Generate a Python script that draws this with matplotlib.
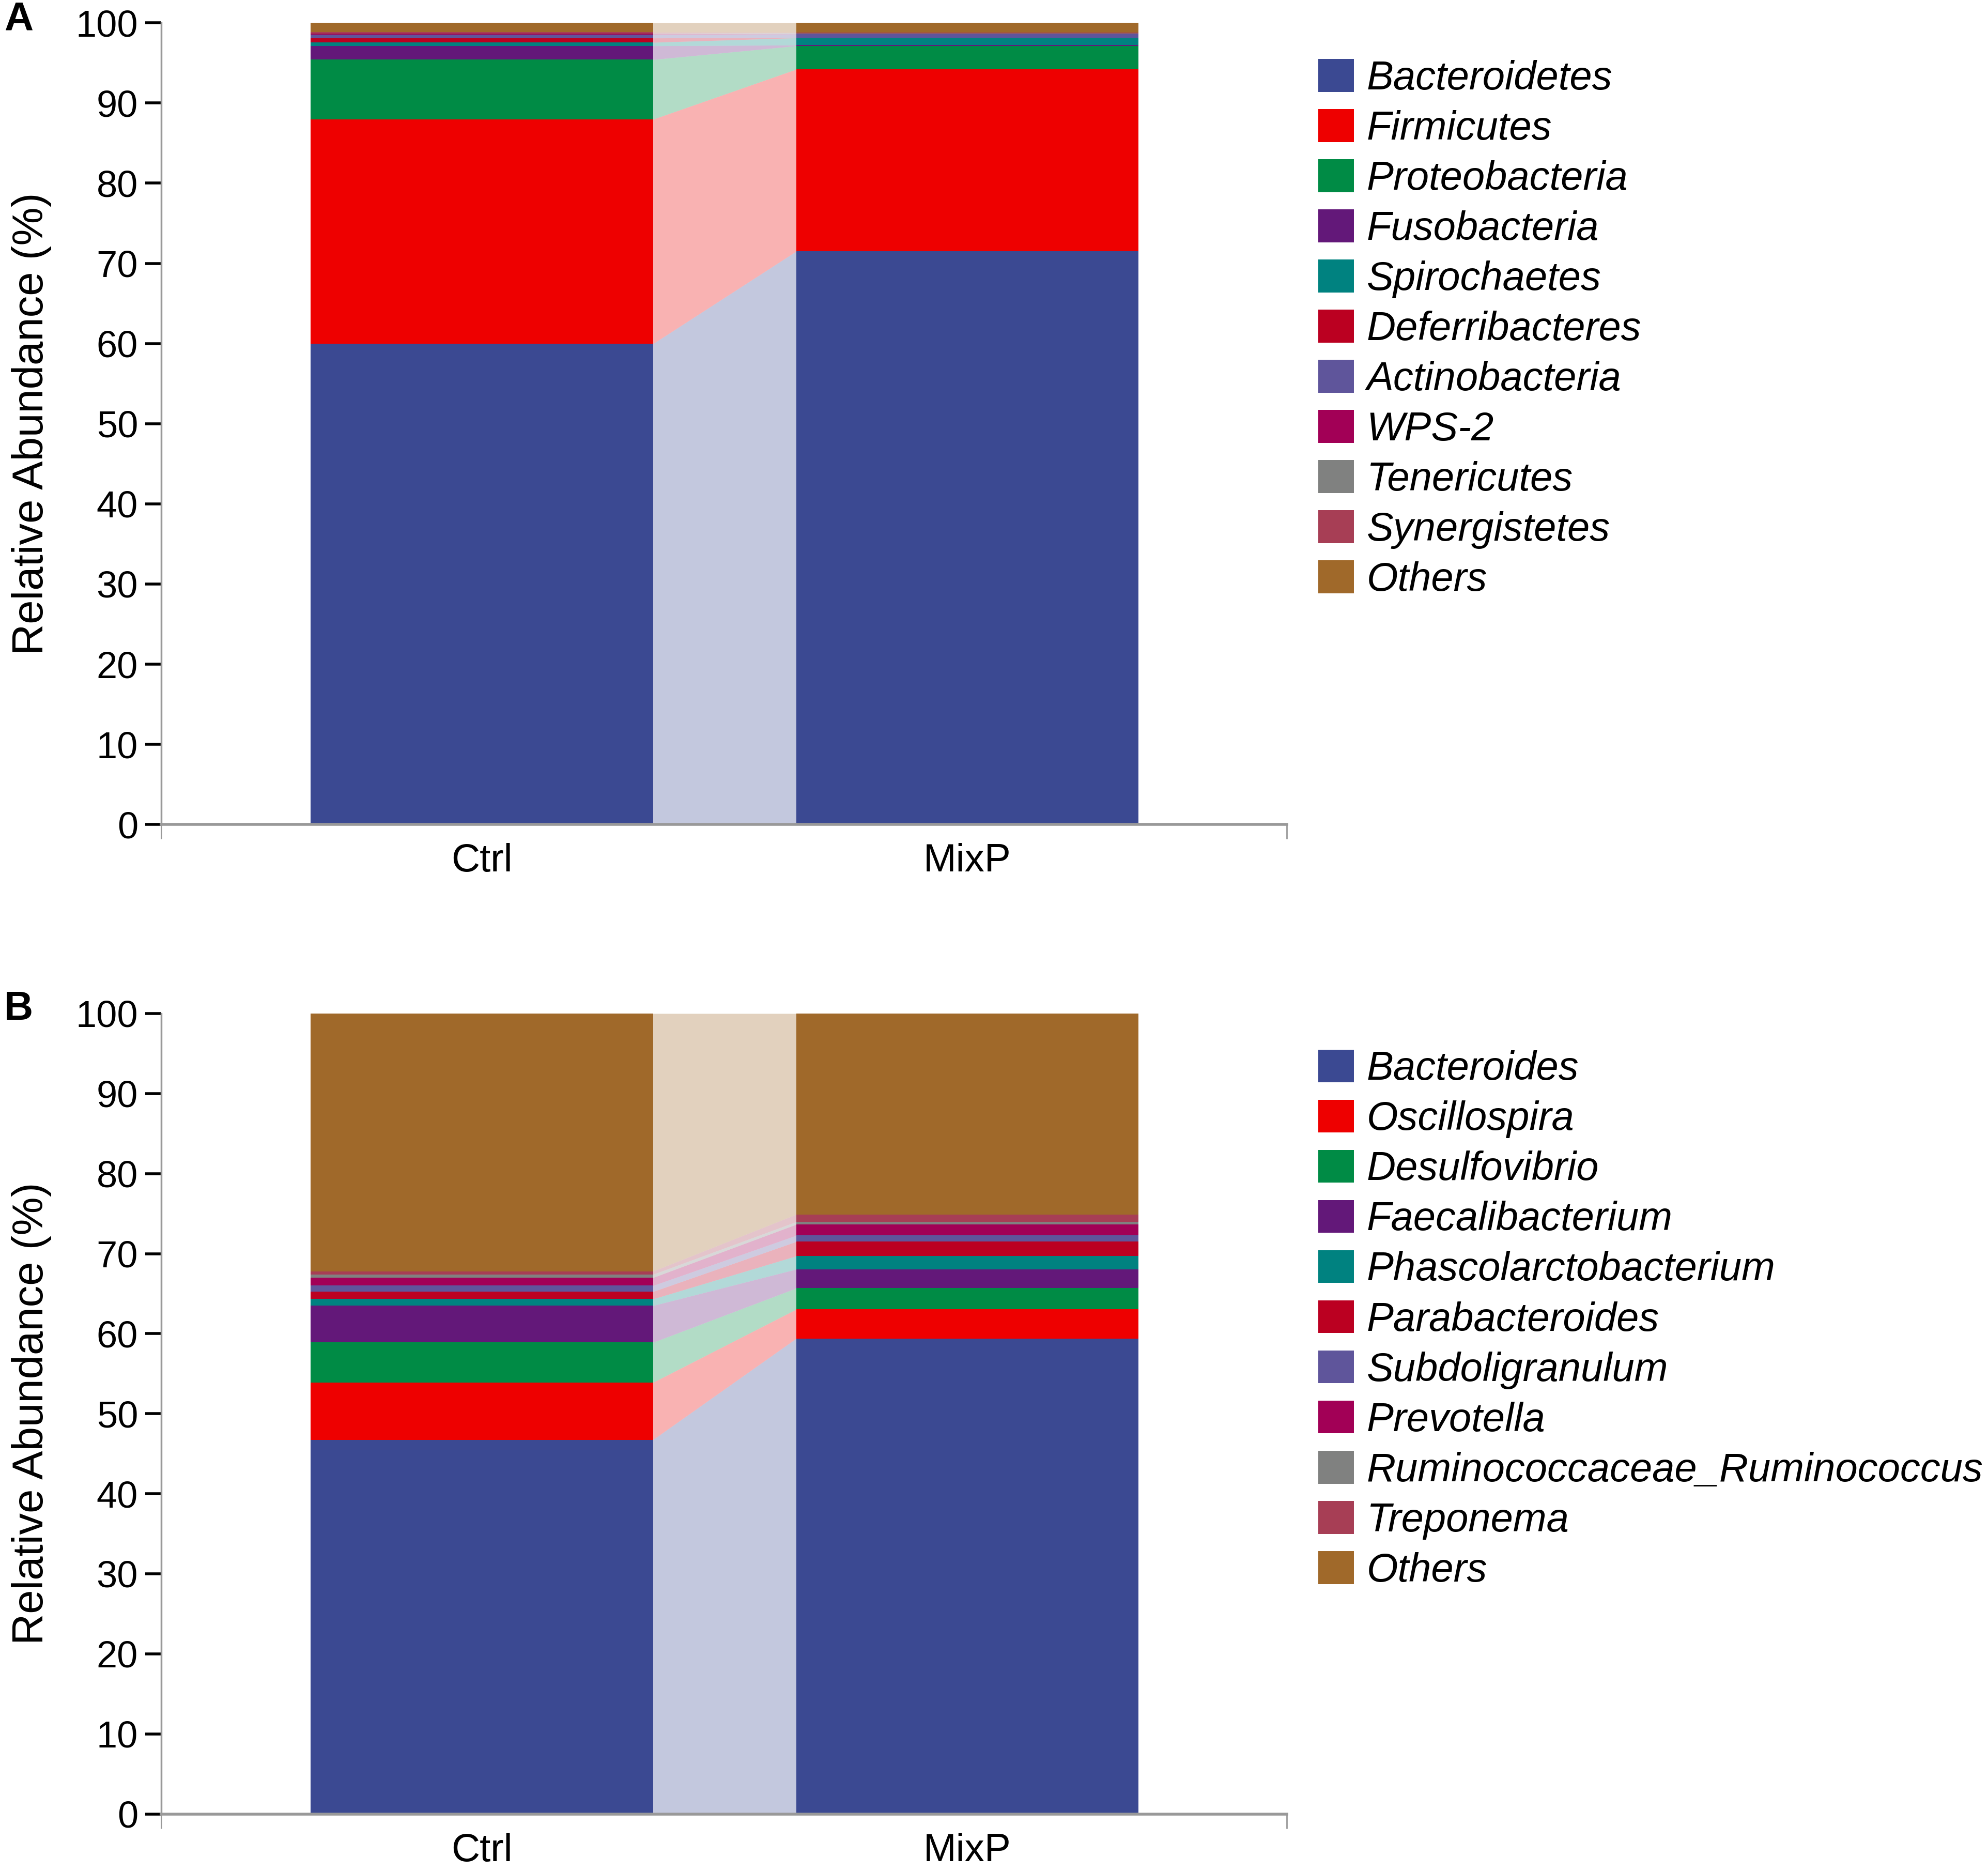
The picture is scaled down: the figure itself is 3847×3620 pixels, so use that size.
import numpy as np
import matplotlib
matplotlib.use('Agg')
import matplotlib.pyplot as plt

plt.rcParams['font.family'] = ['Liberation Sans', 'DejaVu Sans']

# groups on the x axis
groups = ['Ctrl', 'MixP']

# panel A - phylum level (%)
phyla = ['Bacteroidetes', 'Firmicutes', 'Proteobacteria', 'Fusobacteria', 'Spirochaetes',
         'Deferribacteres', 'Actinobacteria', 'WPS-2', 'Tenericutes', 'Synergistetes', 'Others']
phylum_ctrl = [59.96, 28.0, 7.45, 1.72, 0.43, 0.54, 0.43, 0.10, 0.05, 0.15, 1.17]
phylum_mixp = [71.5, 22.7, 2.92, 0.10, 0.90, 0.05, 0.43, 0.05, 0.10, 0.05, 1.20]

# panel B - genus level (%)
genera = ['Bacteroides', 'Oscillospira', 'Desulfovibrio', 'Faecalibacterium', 'Phascolarctobacterium',
          'Parabacteroides', 'Subdoligranulum', 'Prevotella', 'Ruminococcaceae_Ruminococcus',
          'Treponema', 'Others']
genus_ctrl = [46.75, 7.15, 5.0, 4.6, 0.83, 0.92, 0.75, 1.0, 0.4, 0.4, 32.2]
genus_mixp = [59.4, 3.64, 2.64, 2.37, 1.65, 1.8, 0.77, 1.38, 0.33, 0.92, 25.1]

colors = ['#3B4992', '#EE0000', '#008B45', '#631879', '#008280', '#BB0021',
          '#5F559B', '#A20056', '#808180', '#A73E55', '#A0692A']

W = 0.705
XL = (-0.6606, 1.658)


def draw_panel(ax, names, ctrl, mixp, letter, letter_y):
    data = np.array([ctrl, mixp])
    x = np.arange(len(groups))
    bottoms = np.zeros(len(groups))
    for i, name in enumerate(names):
        h = data[:, i]
        ax.bar(x, h, W, bottom=bottoms, color=colors[i], linewidth=0, label=name)
        # light band joining the two bars
        xs = [x[0] + W / 2, x[1] - W / 2]
        ax.fill_between(xs, bottoms, bottoms + h, color=colors[i], alpha=0.3, linewidth=0)
        bottoms = bottoms + h

    ax.set_xlim(*XL)
    ax.set_ylim(0, 100)
    ax.set_yticks(range(0, 101, 10))
    ax.tick_params(axis='y', labelsize=52, length=22, width=4, color='black', pad=10)
    ax.set_xticks(x)
    ax.set_xticklabels(groups)
    ax.tick_params(axis='x', labelsize=55, length=0, pad=26)
    ax.set_xticks(list(XL), minor=True)
    ax.tick_params(axis='x', which='minor', length=20, width=2, color='#999999')
    for s in ['top', 'right']:
        ax.spines[s].set_visible(False)
    ax.spines['left'].set_color('#999999')
    ax.spines['left'].set_linewidth(2.5)
    ax.spines['bottom'].set_color('#999999')
    ax.spines['bottom'].set_linewidth(4)

    ax.set_ylabel('Relative Abundance (%)', fontsize=60)
    ax.yaxis.set_label_coords(-0.0973, 0.5)

    ax.legend(loc='upper left', bbox_to_anchor=(1.028, 0.955), frameon=False,
              prop={'size': 56, 'style': 'italic'}, handlelength=0.88,
              handleheight=0.88, handletextpad=0.32, labelspacing=0.288,
              borderpad=0, borderaxespad=0)

    fig.text(0.002, letter_y, letter, fontsize=56, fontweight='bold', ha='left', va='center')


fig = plt.figure(figsize=(38.47, 36.20), dpi=100)
ax_a = fig.add_axes([0.081, 0.5593, 0.5663, 0.4285])
ax_b = fig.add_axes([0.081, 0.0305, 0.5663, 0.4278])

draw_panel(ax_a, phyla, phylum_ctrl, phylum_mixp, 'A', 0.9896)
draw_panel(ax_b, genera, genus_ctrl, genus_mixp, 'B', 0.4605)

fig.savefig('out.png', dpi=100)
